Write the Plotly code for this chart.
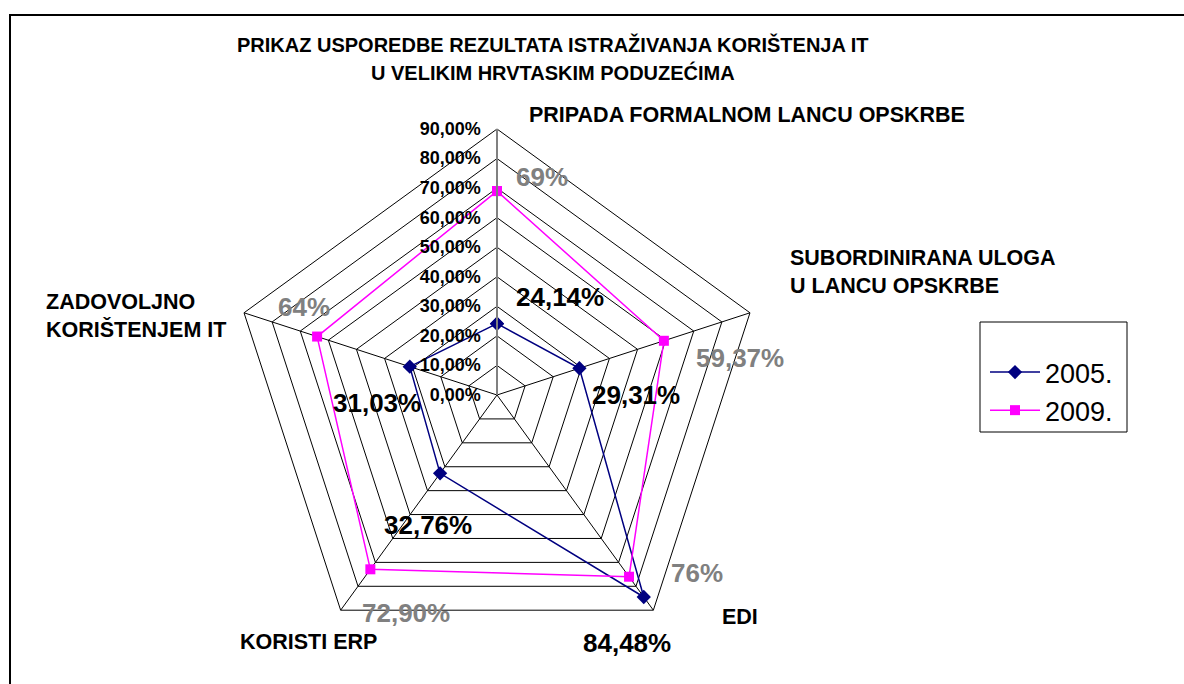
import plotly.graph_objects as go

categories = ["PRIPADA FORMALNOM LANCU OPSKRBE", "SUBORDINIRANA ULOGA<br>U LANCU OPSKRBE",
              "EDI", "KORISTI ERP", "ZADOVOLJNO<br>KORIŠTENJEM IT"]
values_2005 = [24.14, 29.31, 84.48, 32.76, 31.03]
values_2009 = [69, 59.37, 76, 72.90, 64]
labels_2005 = ["24,14%", "29,31%", "84,48%", "32,76%", "31,03%"]
labels_2009 = ["69%", "59,37%", "76%", "72,90%", "64%"]
radial_ticks = [0, 10, 20, 30, 40, 50, 60, 70, 80, 90]
radial_ticktext = ["0,00%", "10,00%", "20,00%", "30,00%", "40,00%", "50,00%",
                   "60,00%", "70,00%", "80,00%", "90,00%"]
title_lines = ["PRIKAZ USPOREDBE REZULTATA ISTRAŽIVANJA KORIŠTENJA IT",
               "U VELIKIM HRVTASKIM PODUZEĆIMA"]

FONT = "Liberation Sans, Arial, sans-serif"
W, H = 1184, 684
cx, cy, R = 497, 395, 266

def px(x):
    return x / W

def py(y):
    return 1 - y / H

fig = go.Figure()
theta = categories + [categories[0]]
fig.add_trace(go.Scatterpolar(
    r=values_2005 + [values_2005[0]], theta=theta, name="2005.",
    mode="lines+markers", line=dict(color="#000080", width=1.5),
    marker=dict(symbol="diamond", size=11, color="#000080")))
fig.add_trace(go.Scatterpolar(
    r=values_2009 + [values_2009[0]], theta=theta, name="2009.",
    mode="lines+markers", line=dict(color="#FF00FF", width=1.5),
    marker=dict(symbol="square", size=10, color="#FF00FF")))

fig.update_layout(
    width=W, height=H, margin=dict(l=0, r=0, t=0, b=0),
    paper_bgcolor="white",
    font=dict(family=FONT, color="black"),
    polar=dict(
        domain=dict(x=[px(cx - R), px(cx + R)], y=[py(cy + R), py(cy - R)]),
        bgcolor="white", gridshape="linear",
        angularaxis=dict(direction="clockwise", rotation=90, showticklabels=False,
                         ticks="", linecolor="black", linewidth=1,
                         gridcolor="black", gridwidth=1),
        radialaxis=dict(range=[0, 90], tickvals=radial_ticks, ticktext=radial_ticktext,
                        angle=90, side="counterclockwise",
                        tickangle=90, ticks="outside", ticklen=9,
                        tickcolor="rgba(0,0,0,0)",
                        tickfont=dict(size=18, family=FONT, color="black", weight="bold"),
                        linecolor="#808080", linewidth=2,
                        gridcolor="black", gridwidth=1, showline=True)),
    legend=dict(x=px(985), y=py(348), xanchor="left", yanchor="top",
                borderwidth=0, bgcolor="rgba(0,0,0,0)",
                font=dict(size=27, family=FONT, color="black"),
                tracegroupgap=0, itemwidth=50),
    showlegend=True,
)

# chart frame
fig.add_shape(type="rect", xref="paper", yref="paper", x0=px(10), x1=px(1230),
              y0=py(740), y1=py(15), line=dict(color="black", width=2))
# legend box
fig.add_shape(type="rect", xref="paper", yref="paper", x0=px(980), x1=px(1127),
              y0=py(432), y1=py(322), line=dict(color="black", width=1))

# title
for t, y in zip(title_lines, [45, 72]):
    fig.add_annotation(x=px(553), y=py(y), xref="paper", yref="paper", showarrow=False,
                       text="<b>" + t + "</b>", xanchor="center", yanchor="middle",
                       font=dict(size=20, family=FONT, color="black"))

# category labels
cat_pos = [(527, 115), (788, 272), (720, 617), (238, 642), (44, 316)]
for c, (x, y) in zip(categories, cat_pos):
    fig.add_annotation(x=px(x), y=py(y), xref="paper", yref="paper", showarrow=False,
                       text="<b>" + c + "</b>", xanchor="left", yanchor="middle", align="left",
                       font=dict(size=21.5, family=FONT, color="black"))

# data labels
pos_2005 = [(560, 297), (636, 395), (627, 643), (428, 525), (377, 403)]
pos_2009 = [(542, 177), (740, 358), (697, 573), (406, 613), (304, 307)]
for t, (x, y) in zip(labels_2005, pos_2005):
    fig.add_annotation(x=px(x), y=py(y), xref="paper", yref="paper", showarrow=False,
                       xanchor="center", yanchor="middle",
                       text="<b>" + t + "</b>", font=dict(size=26, family=FONT, color="black"))
for t, (x, y) in zip(labels_2009, pos_2009):
    fig.add_annotation(x=px(x), y=py(y), xref="paper", yref="paper", showarrow=False,
                       xanchor="center", yanchor="middle",
                       text="<b>" + t + "</b>", font=dict(size=26, family=FONT, color="#808080"))

fig.write_html("out.html", config={"displayModeBar": False},
               post_script="document.body.style.margin='0';document.body.style.overflow='hidden';")
